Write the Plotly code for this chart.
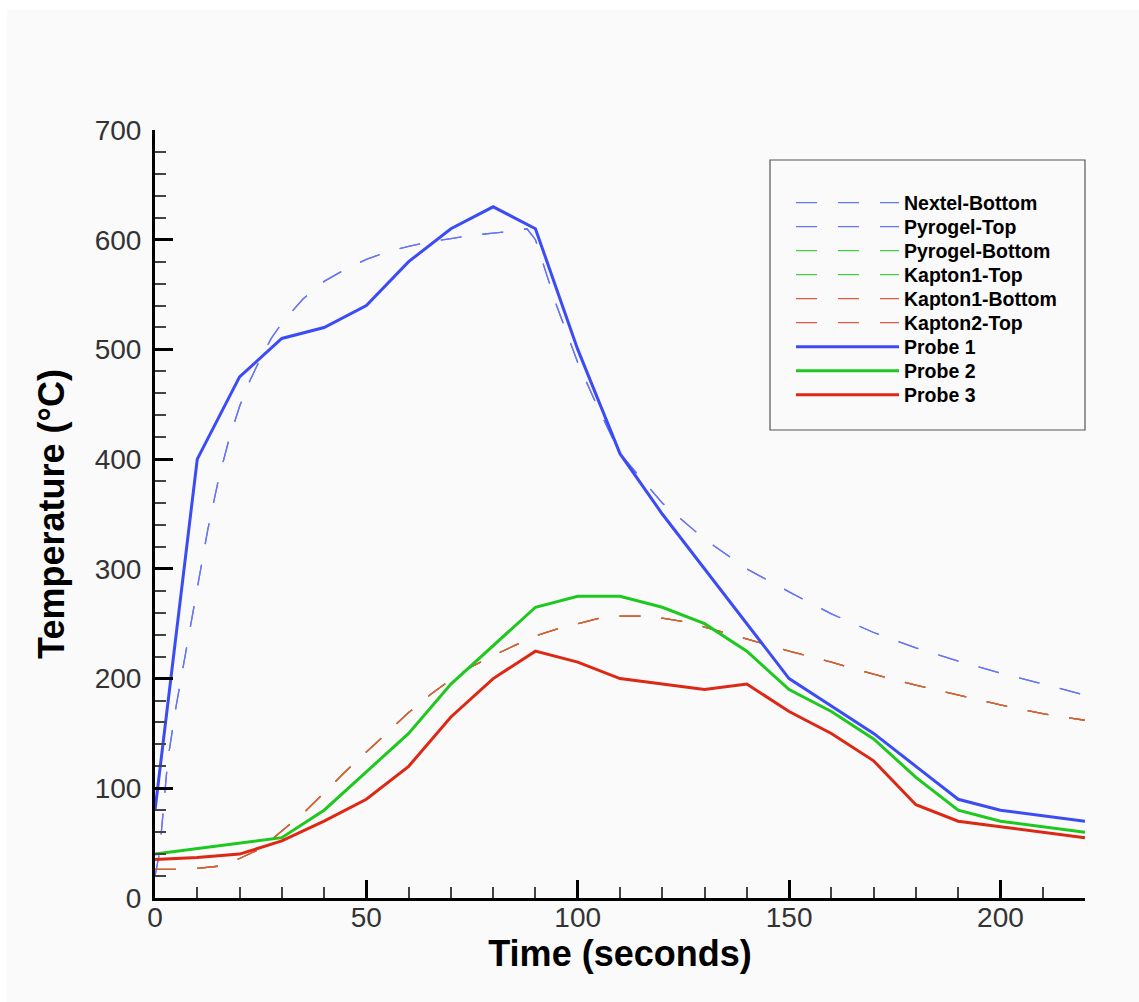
import plotly.graph_objects as go

# ---- data ----
t_dash_blue = [0, 1, 1.5, 3, 5, 7.5, 10, 12.5, 15, 17.5, 20, 22.5, 25, 27.5, 30, 35, 40, 45, 50,
               55, 60, 65, 70, 75, 80, 85, 88, 90, 95, 100, 105, 110, 120, 130, 140, 150,
               160, 170, 180, 190, 200, 210, 220]
nextel_bottom = [20, 40, 60, 125, 175, 229, 283, 336, 381, 418, 448, 472, 492, 510, 524, 546, 562, 573, 582,
                 589, 594, 598, 601, 604, 606, 608, 610, 600, 540, 488, 445, 405, 360, 327, 300, 279,
                 259, 242, 228, 216, 205, 195, 185]
pyrogel_top = list(nextel_bottom)

t_dash_red = [0, 5, 10, 15, 20, 25, 30, 35, 40, 45, 50, 55, 60, 65, 70, 75, 80, 85, 90, 95, 100,
              105, 110, 115, 120, 125, 130, 140, 150, 160, 170, 180, 190, 200, 210, 220]
kapton1_bottom = [26, 26, 27, 29, 36, 45, 61, 77, 96, 115, 133, 151, 169, 185, 199, 211, 221, 230, 239, 245, 250,
                  255, 257, 257, 255, 252, 247, 236, 225, 215, 204, 194, 185, 176, 168, 162]
kapton2_top = list(kapton1_bottom)
pyrogel_bottom = list(kapton1_bottom)
kapton1_top = list(kapton1_bottom)

t_probe = [0, 10, 20, 30, 40, 50, 60, 70, 80, 90, 100, 110, 120, 130, 140, 150,
           160, 170, 180, 190, 200, 210, 220]
probe1 = [80, 400, 475, 510, 520, 540, 580, 610, 630, 610, 500, 405, 350, 300, 250, 200,
          175, 150, 120, 90, 80, 75, 70]
probe2 = [40, 45, 50, 55, 80, 115, 150, 195, 230, 265, 275, 275, 265, 250, 225, 190,
          170, 145, 110, 80, 70, 65, 60]
probe3 = [35, 37, 40, 52, 70, 90, 120, 165, 200, 225, 215, 200, 195, 190, 195, 170,
          150, 125, 85, 70, 65, 60, 55]

BLUE = "#3c4cf5"
GREEN = "#1fc81f"
RED = "#dc2814"
BLUE_D = "#6674f6"
GREEN_D = "#3fd03f"
RED_D = "#e4583e"
DASH = "21px,21px"

W, H = 1139, 1002
L, R, T, B = 155, 54, 130, 104
pw, ph = W - L - R, H - T - B


def px_x(p):
    return (p - L) / pw


def px_y(p):
    return (H - B - p) / ph


FONT = "Liberation Sans, Arial, sans-serif"

series = [
    ("Nextel-Bottom", t_dash_blue, nextel_bottom, BLUE_D, 1.3, DASH),
    ("Pyrogel-Top", t_dash_blue, pyrogel_top, BLUE_D, 1.3, DASH),
    ("Pyrogel-Bottom", t_dash_red, pyrogel_bottom, GREEN_D, 1.3, DASH),
    ("Kapton1-Top", t_dash_red, kapton1_top, GREEN_D, 1.3, DASH),
    ("Kapton1-Bottom", t_dash_red, kapton1_bottom, RED_D, 1.3, DASH),
    ("Kapton2-Top", t_dash_red, kapton2_top, RED_D, 1.3, DASH),
    ("Probe 1", t_probe, probe1, BLUE, 3, "solid"),
    ("Probe 2", t_probe, probe2, GREEN, 3, "solid"),
    ("Probe 3", t_probe, probe3, RED, 3, "solid"),
]

fig = go.Figure()
legends = {}
for i, (name, xs, ys, col, lw, dash) in enumerate(series):
    lid = "legend" if i == 0 else f"legend{i + 1}"
    fig.add_trace(go.Scatter(x=xs, y=ys, name=name, mode="lines", legend=lid,
                             line=dict(color=col, width=lw, dash=dash)))
    legends[lid] = dict(
        x=px_x(791), y=px_y(203 + 24 * i), xanchor="left", yanchor="middle",
        bgcolor="rgba(0,0,0,0)", borderwidth=0, itemwidth=103,
        font=dict(family=FONT, size=19.5, color="black", weight="bold"),
    )

BG = "#fafafa"
shapes = [
    dict(type="rect", xref="paper", yref="paper", x0=px_x(0), x1=px_x(W), y0=px_y(10), y1=px_y(0),
         fillcolor="white", line=dict(width=0), layer="below"),
    dict(type="rect", xref="paper", yref="paper", x0=px_x(0), x1=px_x(7), y0=px_y(H), y1=px_y(0),
         fillcolor="white", line=dict(width=0), layer="below"),
    dict(type="rect", xref="paper", yref="paper", x0=px_x(770), x1=px_x(1085), y0=px_y(430), y1=px_y(160),
         fillcolor="rgba(0,0,0,0)", line=dict(color="#555555", width=1.2), layer="above"),
]

axis_common = dict(
    showline=True, linewidth=3, linecolor="black",
    ticks="inside", ticklen=18, tickwidth=3, tickcolor="black",
    showgrid=False, zeroline=False,
    tickfont=dict(family=FONT, size=28, color="#333333"),
)

fig.update_layout(
    width=W, height=H,
    margin=dict(l=L, r=R, t=T, b=B, autoexpand=False),
    paper_bgcolor=BG, plot_bgcolor=BG,
    shapes=shapes,
    showlegend=True,
    xaxis=dict(
        range=[0, 220], dtick=50, tick0=0,
        minor=dict(dtick=10, ticks="inside", ticklen=11, tickwidth=1.5, tickcolor="#444444"),
        title=dict(text="Time (seconds)", standoff=6,
                   font=dict(family=FONT, size=36, color="black", weight="bold")),
        ticklabelstandoff=-8,
        **axis_common,
    ),
    yaxis=dict(
        range=[0, 700], dtick=100, tick0=0,
        minor=dict(dtick=20, ticks="inside", ticklen=11, tickwidth=1.5, tickcolor="#444444"),
        title=dict(text="Temperature (°C)", standoff=20,
                   font=dict(family=FONT, size=36, color="black", weight="bold")),
        ticklabelstandoff=5,
        **axis_common,
    ),
)
fig.update_layout(**legends)

fig.write_html("out.html")
